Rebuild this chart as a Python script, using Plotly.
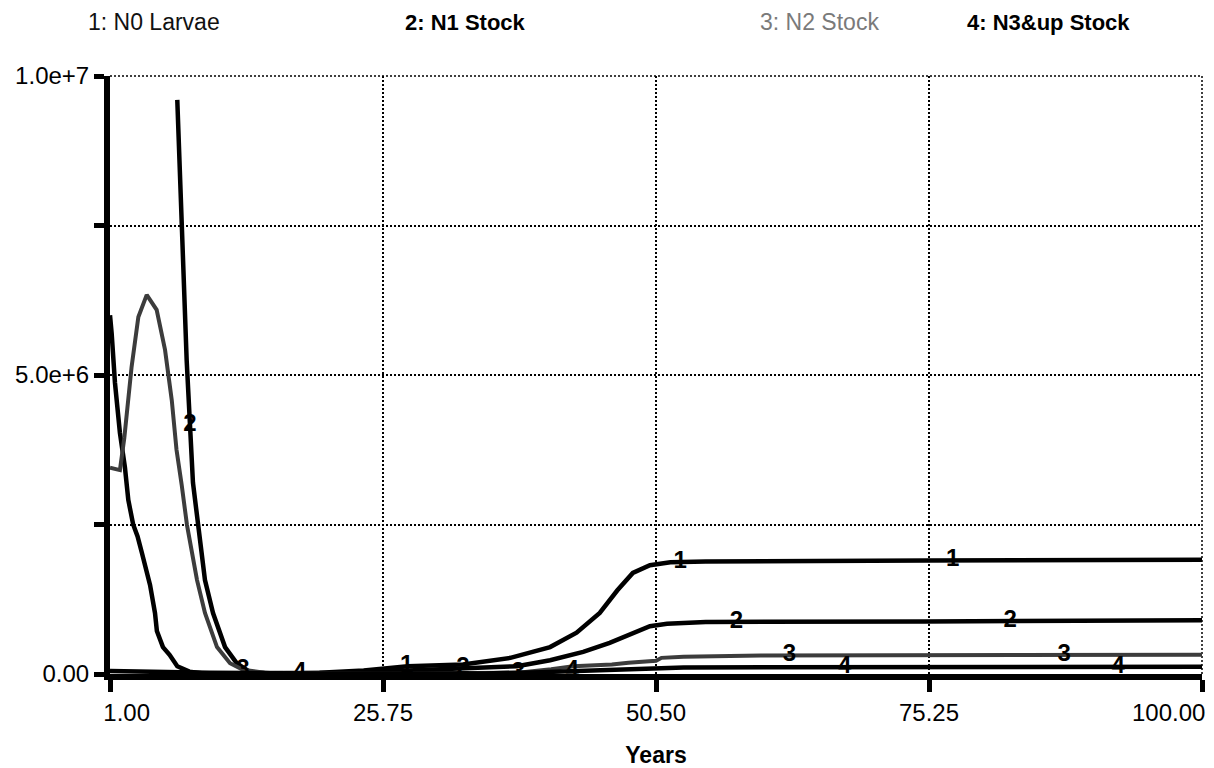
import numpy as np
import plotly.graph_objects as go

# ---------------- data (values in millions) ----------------
series_names = ["1: N0 Larvae", "2: N1 Stock", "3: N2 Stock", "4: N3&up Stock"]

t1 = [1.0, 1.15, 1.45, 1.9, 2.35, 2.66, 3.1, 3.5, 3.9, 4.3, 4.63, 5.08, 5.25, 5.8, 6.4,
      7.1, 8.2, 9.5, 15, 20, 24, 28, 33, 37.3, 40.9, 43.3, 45.4, 47.0, 48.4, 49.95,
      51.8, 55, 75, 100]
v1 = [6.0, 5.7, 4.87, 4.03, 3.46, 2.91, 2.5, 2.3, 2.02, 1.75, 1.49, 1.02, 0.72, 0.45, 0.32,
      0.13, 0.04, 0.01, 0.01, 0.02, 0.06, 0.13, 0.16, 0.27, 0.45, 0.69, 1.02, 1.40, 1.69, 1.82,
      1.87, 1.88, 1.90, 1.91]

t2 = [7.1, 7.55, 7.8, 7.95, 8.52, 8.98, 9.61, 10.34, 11.43, 12.5, 13.7, 16, 22, 28, 33,
      37.9, 40.9, 43.9, 46.3, 48.4, 49.95, 51.5, 55, 75, 100]
v2 = [9.6, 7.48, 5.92, 5.25, 3.2, 2.49, 1.57, 1.02, 0.45, 0.18, 0.03, 0.01, 0.02, 0.06, 0.10,
      0.13, 0.23, 0.37, 0.52, 0.69, 0.80, 0.84, 0.87, 0.88, 0.90]

t3 = [1.0, 1.9, 2.3, 2.96, 3.57, 4.33, 5.23, 5.99, 6.6, 7.03, 7.5, 7.98, 8.89, 9.61, 10.7,
      11.88, 13.06, 15, 25, 38, 41, 43, 46.5, 48, 50.5, 51, 53, 60, 100]
v3 = [3.45, 3.41, 3.95, 5.14, 5.97, 6.34, 6.09, 5.42, 4.58, 3.75, 3.16, 2.49, 1.57, 1.02, 0.45,
      0.18, 0.07, 0.02, 0.01, 0.02, 0.08, 0.13, 0.16, 0.19, 0.22, 0.27, 0.29, 0.31, 0.32]

t4 = [1, 3, 7, 10, 20, 35, 40, 45, 50, 53, 100]
v4 = [0.05, 0.04, 0.03, 0.02, 0.01, 0.01, 0.03, 0.06, 0.09, 0.11, 0.12]

# times at which the curve number labels are drawn
label_t1 = [27.9, 52.7, 77.4]
label_t2 = [8.25, 33.0, 57.8, 82.6]
label_t3 = [13.06, 38.0, 62.6, 87.5]
label_t4 = [18.2, 42.9, 67.6, 92.4]

x_tickvals = [1, 25.75, 50.5, 75.25, 100]
x_ticktext = ["\u00a0" * 5 + "1.00", "25.75", "50.50", "75.25", ""]
x_end_label = "100.00"
y_tickvals = [0, 2.5e6, 5e6, 7.5e6, 1e7]
y_ticktext = ["0.00", "", "5.0e+6", "", "1.0e+7"]
x_range = [1, 100]
y_range = [0, 1e7]

SCALE = 1e6
FONT = "Liberation Sans, Arial, Helvetica, sans-serif"

series = [
    (t1, v1, label_t1, "1", "#000000", 4.5),
    (t2, v2, label_t2, "2", "#000000", 4.5),
    (t3, v3, label_t3, "3", "#3c3c3c", 4.0),
    (t4, v4, label_t4, "4", "#000000", 4.5),
]

fig = go.Figure()
for (t, v, lt, num, col, w), name in zip(series, series_names):
    y = np.array(v) * SCALE
    fig.add_trace(go.Scatter(x=t, y=y, mode="lines", name=name,
                             line=dict(color=col, width=w), showlegend=False))
for (t, v, lt, num, col, w), name in zip(series, series_names):
    ly = np.interp(lt, t, np.array(v) * SCALE)
    fig.add_trace(go.Scatter(x=lt, y=ly, mode="text", text=["<b>%s</b>" % num] * len(lt),
                             textposition="middle center",
                             textfont=dict(family=FONT, size=24, color="black"),
                             showlegend=False, cliponaxis=False))

# header legend
legend_x = [0.0403, 0.326, 0.65, 0.859]
legend_style = [("#111111", False), ("#000000", True), ("#7a7a7a", False), ("#000000", True)]
for name, lx, (col, bold) in zip(series_names, legend_x, legend_style):
    fig.add_annotation(text=("<b>%s</b>" % name) if bold else name, x=lx, y=1.090,
                       xref="paper", yref="paper", showarrow=False,
                       xanchor="center", yanchor="middle",
                       font=dict(family=FONT, size=23 if not bold else 22, color=col))

# last x tick label, right-aligned so it stays inside the frame
fig.add_annotation(text=x_end_label, x=x_tickvals[-1], xref="x", y=0, yref="paper",
                   xanchor="right", yanchor="middle", xshift=5, yshift=-38,
                   showarrow=False, font=dict(family=FONT, size=24, color="black"))

grid_dash = "2px,2px"
# dotted frame on the top and right edges (the chart's border)
fig.add_shape(type="line", xref="paper", yref="paper", x0=0, x1=1, y0=1, y1=1,
              line=dict(color="black", width=1.5, dash=grid_dash), layer="below")
fig.add_shape(type="line", xref="paper", yref="paper", x0=1, x1=1, y0=0, y1=1,
              line=dict(color="black", width=1.5, dash=grid_dash), layer="below")

fig.update_layout(
    width=1214, height=768, autosize=False,
    margin=dict(l=110, r=12, t=76, b=94, autoexpand=False),
    paper_bgcolor="white", plot_bgcolor="white",
    font=dict(family=FONT, size=24, color="black"),
    xaxis=dict(range=x_range, tickvals=x_tickvals, ticktext=x_ticktext,
               showline=True, linewidth=6, linecolor="black",
               ticks="outside", ticklen=12, tickwidth=5, tickcolor="black",
               showgrid=True, gridcolor="black", gridwidth=1.5, griddash=grid_dash,
               zeroline=False, tickfont=dict(size=24), automargin=False,
               ticklabeloverflow="allow",
               title=dict(text="<b>Years</b>", font=dict(size=23), standoff=25)),
    yaxis=dict(range=y_range, tickvals=y_tickvals, ticktext=y_ticktext,
               showline=True, linewidth=6, linecolor="black",
               ticks="outside", ticklen=10, tickwidth=5, tickcolor="black",
               showgrid=True, gridcolor="black", gridwidth=1.5, griddash=grid_dash,
               zeroline=False, tickfont=dict(size=24), automargin=False),
)

fig.write_html("out.html", config={"displayModeBar": False},
               post_script="document.body.style.margin='0px';")
